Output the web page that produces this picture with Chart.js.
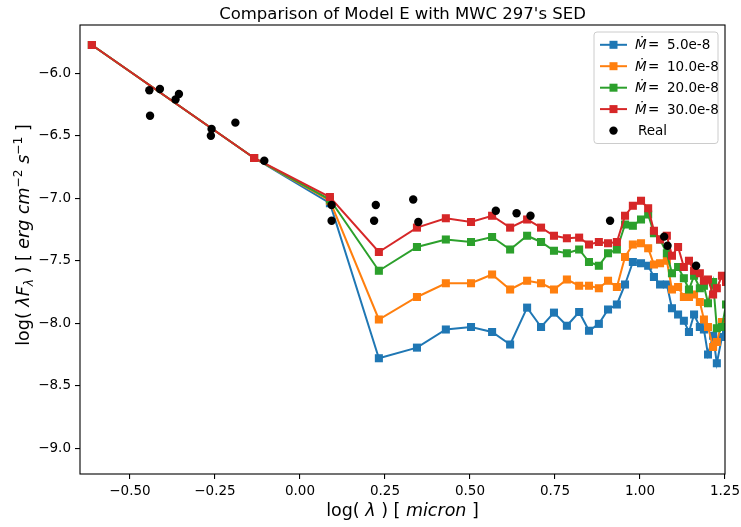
<!DOCTYPE html>
<html><head><meta charset="utf-8">
<script src="https://cdn.jsdelivr.net/npm/chart.js@4.4.0/dist/chart.umd.min.js"></script>
<style>html,body{margin:0;padding:0;background:#fff;}#wrap{width:741px;height:527px;}</style>
</head><body><div id="wrap"><canvas id="c" width="741" height="527"></canvas></div>
<script>
const chartTitle = "Comparison of Model E with MWC 297's SED";
const modelX = [-0.612, -0.135, 0.088, 0.232, 0.344, 0.429, 0.503, 0.565, 0.618, 0.668, 0.709, 0.747, 0.785, 0.821, 0.850, 0.879, 0.906, 0.932, 0.956, 0.979, 1.003, 1.024, 1.041, 1.059, 1.079, 1.094, 1.112, 1.129, 1.144, 1.159, 1.176, 1.188, 1.200, 1.215, 1.226, 1.241, 1.253, 1.265];
const mdot5  = [-5.774, -6.678, -7.04, -8.28, -8.195, -8.05, -8.03, -8.07, -8.17, -7.875, -8.03, -7.915, -8.02, -7.91, -8.06, -8.005, -7.89, -7.85, -7.69, -7.51, -7.52, -7.54, -7.63, -7.69, -7.69, -7.88, -7.93, -7.98, -8.07, -7.93, -8.03, -8.05, -8.25, -8.10, -8.32, -8.11, -8.05, -8.0];
const mdot10 = [-5.774, -6.678, -7.02, -7.97, -7.79, -7.68, -7.68, -7.61, -7.73, -7.66, -7.68, -7.73, -7.65, -7.70, -7.70, -7.72, -7.66, -7.71, -7.47, -7.37, -7.36, -7.40, -7.53, -7.52, -7.50, -7.73, -7.71, -7.79, -7.79, -7.77, -7.83, -7.97, -8.03, -8.19, -8.15, -7.99, -8.0, -7.98];
const mdot20 = [-5.774, -6.678, -7.01, -7.58, -7.39, -7.33, -7.35, -7.31, -7.41, -7.30, -7.35, -7.42, -7.44, -7.41, -7.51, -7.54, -7.44, -7.41, -7.21, -7.22, -7.17, -7.13, -7.28, -7.33, -7.44, -7.60, -7.55, -7.64, -7.73, -7.62, -7.72, -7.70, -7.84, -7.67, -8.04, -8.03, -7.85, -7.80];
const mdot30 = [-5.774, -6.678, -6.99, -7.43, -7.235, -7.16, -7.19, -7.14, -7.235, -7.17, -7.235, -7.30, -7.32, -7.315, -7.37, -7.35, -7.36, -7.35, -7.14, -7.06, -7.02, -7.08, -7.26, -7.33, -7.30, -7.46, -7.39, -7.55, -7.50, -7.58, -7.60, -7.66, -7.65, -7.77, -7.72, -7.62, -7.67, -7.80];
const realX = [-0.443, -0.441, -0.412, -0.366, -0.356, -0.262, -0.260, -0.190, -0.105, 0.093, 0.093, 0.218, 0.223, 0.333, 0.348, 0.576, 0.637, 0.678, 0.912, 1.071, 1.081, 1.165];
const realY = [-6.136, -6.34, -6.126, -6.21, -6.166, -6.50, -6.446, -6.395, -6.70, -7.054, -7.18, -7.18, -7.054, -7.01, -7.19, -7.10, -7.12, -7.14, -7.18, -7.307, -7.38, -7.54];
const seriesLabels = ["5.0e-8", "10.0e-8", "20.0e-8", "30.0e-8"];
const realLabel = "Real";
const xTicks = [-0.5, -0.25, 0, 0.25, 0.5, 0.75, 1.0, 1.25];
const yTicks = [-9.0, -8.5, -8.0, -7.5, -7.0, -6.5, -6.0];
const colors = ["#1f77b4", "#ff7f0e", "#2ca02c", "#d62728"];

const FONT = "DejaVu Sans";
const TICK_SIZE = 13.5;
const fmt = (v, d) => (v < 0 ? "\u2212" : "") + Math.abs(v).toFixed(d);
const pts = (xs, ys) => xs.map((x, i) => ({x: x, y: ys[i]}));

const modelSeries = [mdot5, mdot10, mdot20, mdot30];
const datasets = modelSeries.map((ys, i) => ({
  label: seriesLabels[i],
  data: pts(modelX, ys),
  showLine: true,
  borderColor: colors[i],
  backgroundColor: colors[i],
  borderWidth: 2,
  pointStyle: "rect",
  pointRadius: 5.7,
  pointBorderWidth: 0,
  pointHoverRadius: 5.7,
  order: 4 - i,
  clip: 0
}));
datasets.push({
  label: realLabel,
  data: pts(realX, realY),
  showLine: false,
  backgroundColor: "#000",
  borderColor: "#000",
  pointStyle: "circle",
  pointRadius: 4.2,
  pointBorderWidth: 0,
  order: 0,
  clip: 0
});

function drawRuns(ctx, runs, cx, baseY, S) {
  const fontFor = r => (r.it ? "italic " : "") + (S * (r.sc || 1)) + "px '" + FONT + "'";
  let total = 0;
  runs.forEach(r => { ctx.font = fontFor(r); r.w = ctx.measureText(r.t).width; total += r.w; });
  let x = cx - total / 2;
  ctx.textBaseline = "alphabetic";
  ctx.textAlign = "left";
  runs.forEach(r => { ctx.font = fontFor(r); ctx.fillText(r.t, x, baseY + (r.dy || 0) * S); x += r.w; });
}

const decor = {
  id: "decor",
  afterDraw(chart) {
    const ctx = chart.ctx, a = chart.chartArea;
    ctx.save();
    ctx.strokeStyle = "#000"; ctx.lineWidth = 1.1;
    ctx.strokeRect(a.left, a.top, a.right - a.left, a.bottom - a.top);
    ctx.fillStyle = "#000";
    ctx.font = "16.5px '" + FONT + "'";
    ctx.textAlign = "center"; ctx.textBaseline = "alphabetic";
    ctx.fillText(chartTitle, (a.left + a.right) / 2, 19);
    drawRuns(ctx, [{t: "log( "}, {t: "\u03bb", it: 1}, {t: " ) [ "}, {t: "micron", it: 1}, {t: " ]"}], (a.left + a.right) / 2, 516, 17.5);
    ctx.save();
    ctx.translate(29, 235);
    ctx.rotate(-Math.PI / 2);
    drawRuns(ctx, [{t: "log( "}, {t: "\u03bbF", it: 1}, {t: "\u03bb", it: 1, sc: 0.7, dy: 0.22}, {t: " ) [ "},
      {t: "erg cm", it: 1}, {t: "\u22122", sc: 0.7, dy: -0.42}, {t: " s", it: 1}, {t: "\u22121", sc: 0.7, dy: -0.42}, {t: " ]"}], 0, 0, 17.5);
    ctx.restore();
    const bx = 594, by = 32, bw = 124, bh = 111.5, rr = 3;
    ctx.beginPath();
    ctx.moveTo(bx + rr, by); ctx.lineTo(bx + bw - rr, by); ctx.quadraticCurveTo(bx + bw, by, bx + bw, by + rr);
    ctx.lineTo(bx + bw, by + bh - rr); ctx.quadraticCurveTo(bx + bw, by + bh, bx + bw - rr, by + bh);
    ctx.lineTo(bx + rr, by + bh); ctx.quadraticCurveTo(bx, by + bh, bx, by + bh - rr);
    ctx.lineTo(bx, by + rr); ctx.quadraticCurveTo(bx, by, bx + rr, by); ctx.closePath();
    ctx.fillStyle = "rgba(255,255,255,0.8)"; ctx.fill();
    ctx.strokeStyle = "#cccccc"; ctx.lineWidth = 1; ctx.stroke();
    const rowY = [44.8, 66.2, 87.7, 109.1, 130.6];
    ctx.textBaseline = "middle"; ctx.textAlign = "left";
    seriesLabels.forEach((lab, i) => {
      const y = rowY[i];
      ctx.strokeStyle = colors[i]; ctx.lineWidth = 2;
      ctx.beginPath(); ctx.moveTo(600, y); ctx.lineTo(627, y); ctx.stroke();
      ctx.fillStyle = colors[i]; ctx.fillRect(613.5 - 4, y - 4, 8, 8);
      ctx.fillStyle = "#000";
      ctx.font = "italic " + TICK_SIZE + "px '" + FONT + "'";
      ctx.fillText("\u1e40", 635, y + 1);
      ctx.font = TICK_SIZE + "px '" + FONT + "'";
      ctx.fillText("=", 648, y + 1);
      ctx.fillText(lab, 667, y + 1);
    });
    ctx.fillStyle = "#000";
    ctx.beginPath(); ctx.arc(613.5, rowY[4], 4.2, 0, Math.PI * 2); ctx.fill();
    ctx.font = TICK_SIZE + "px '" + FONT + "'";
    ctx.fillText(realLabel, 638, rowY[4] + 1);
    ctx.restore();
  }
};

new Chart(document.getElementById("c"), {
  type: "scatter",
  data: {datasets: datasets},
  options: {
    responsive: false,
    animation: false,
    devicePixelRatio: 1,
    layout: {padding: {top: 25, right: 16, left: 0, bottom: 0}},
    plugins: {legend: {display: false}, title: {display: false}, tooltip: {enabled: false}},
    scales: {
      x: {
        type: "linear", min: -0.647, max: 1.25,
        afterBuildTicks: s => { s.ticks = xTicks.map(v => ({value: v})); },
        afterFit: s => { s.height = 53; s.paddingLeft = 0; s.paddingRight = 0; },
        ticks: {callback: v => fmt(v, 2), font: {family: FONT, size: TICK_SIZE}, color: "#000", padding: 4, maxRotation: 0, autoSkip: false},
        grid: {drawOnChartArea: false, drawTicks: true, tickLength: 5, color: "#000", lineWidth: 1.1},
        border: {display: false}
      },
      y: {
        type: "linear", min: -9.206, max: -5.614,
        afterBuildTicks: s => { s.ticks = yTicks.map(v => ({value: v})); },
        afterFit: s => { s.width = 80; s.paddingTop = 0; s.paddingBottom = 0; },
        ticks: {callback: v => fmt(v, 1), font: {family: FONT, size: TICK_SIZE}, color: "#000", padding: 4, autoSkip: false},
        grid: {drawOnChartArea: false, drawTicks: true, tickLength: 5, color: "#000", lineWidth: 1.1},
        border: {display: false}
      }
    }
  },
  plugins: [decor]
});
</script>
</body></html>
